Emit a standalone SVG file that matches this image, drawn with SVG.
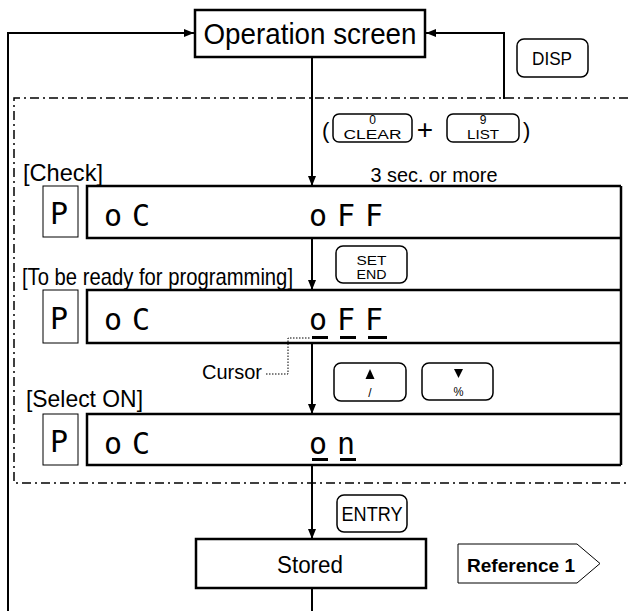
<svg xmlns="http://www.w3.org/2000/svg" width="628" height="611" viewBox="0 0 628 611">
<style>
text{font-family:"Liberation Sans",Arial,sans-serif;fill:#000}
.box{fill:#fff;stroke:#000;stroke-width:2.5}
.key{fill:#fff;stroke:#000;stroke-width:1.5}
.lcd{fill:none;stroke:#000;stroke-width:2.5}
.pbox{fill:none;stroke:#000;stroke-width:1}
.seg{font-family:"DejaVu Sans Mono","Liberation Mono",monospace;font-size:30px;letter-spacing:10px}
.cur{fill:#000}
.lbl{font-size:24px}
.ktxt{font-size:12px;text-anchor:middle}
.conn{fill:none;stroke:#000;stroke-width:2}
</style>
<defs>
<marker id="ah" markerUnits="userSpaceOnUse" markerWidth="10" markerHeight="8" refX="10" refY="4" orient="auto">
<path d="M0,0 L10,4 L0,8 z" fill="#000"/>
</marker>
</defs>

<!-- dash-dot region -->
<path d="M628,98 H14 V483 H628" fill="none" stroke="#000" stroke-width="1.5" stroke-dasharray="9 4 2 4"/>

<g id="connectors">
<path class="conn" d="M8,611 V33 H194" marker-end="url(#ah)"/>
<path class="conn" d="M504,99 V33 H426" marker-end="url(#ah)" stroke-width="1.5"/>
<path class="conn" d="M312,57 V186" marker-end="url(#ah)"/>
<path class="conn" d="M312,238 V290" marker-end="url(#ah)"/>
<path class="conn" d="M312,343 V414" marker-end="url(#ah)"/>
<path class="conn" d="M312,465 V539" marker-end="url(#ah)"/>
<path class="conn" d="M312,588 V611"/>
<path d="M266,374 H288 V338 H311" fill="none" stroke="#000" stroke-width="1" stroke-dasharray="1.5 1.5"/>
</g>

<g id="operation-screen">
<rect class="box" x="195" y="10" width="230" height="47"/>
<text x="310" y="44" font-size="29" text-anchor="middle" textLength="213" lengthAdjust="spacingAndGlyphs">Operation screen</text>
</g>

<g id="key-disp">
<rect class="key" x="517" y="39" width="71" height="38" rx="7"/>
<text x="552" y="65" font-size="18" text-anchor="middle" textLength="40" lengthAdjust="spacingAndGlyphs">DISP</text>
</g>

<g id="key-combo">
<text x="322" y="138" font-size="22">(</text>
<rect class="key" x="333" y="114" width="79" height="28" rx="6"/>
<text class="ktxt" x="372.5" y="124">0</text>
<text class="ktxt" x="372.5" y="139" textLength="58" lengthAdjust="spacingAndGlyphs">CLEAR</text>
<text x="425" y="139" font-size="28" text-anchor="middle">+</text>
<rect class="key" x="447" y="114" width="72" height="28" rx="6"/>
<text class="ktxt" x="483" y="124">9</text>
<text class="ktxt" x="483" y="139" textLength="32" lengthAdjust="spacingAndGlyphs">LIST</text>
<text x="523" y="138" font-size="22">)</text>
<text x="434" y="182" font-size="20" text-anchor="middle" textLength="127" lengthAdjust="spacingAndGlyphs">3 sec. or more</text>
</g>

<g id="row-check">
<text class="lbl" x="23" y="181" textLength="80" lengthAdjust="spacingAndGlyphs">[Check]</text>
<rect class="pbox" x="43" y="186" width="35" height="51"/>
<text class="seg" x="50" y="224">P</text>
<path class="lcd" d="M621,186 H87 V238 H621"/>
<text class="seg" x="104" y="226">oC</text>
<text class="seg" x="309" y="226">oFF</text>
</g>

<g id="key-set-end">
<rect class="key" x="336" y="246" width="71" height="37" rx="7"/>
<text class="ktxt" x="371.5" y="265" font-size="14" textLength="30" lengthAdjust="spacingAndGlyphs">SET</text>
<text class="ktxt" x="371.5" y="279" font-size="14" textLength="30" lengthAdjust="spacingAndGlyphs">END</text>
</g>

<g id="row-ready">
<text class="lbl" x="22" y="285" textLength="271" lengthAdjust="spacingAndGlyphs">[To be ready for programming]</text>
<rect class="pbox" x="43" y="290" width="35" height="53"/>
<text class="seg" x="50" y="329">P</text>
<path class="lcd" d="M621,290 H87 V343 H621"/>
<text class="seg" x="104" y="330">oC</text>
<text class="seg" x="309" y="330">oFF</text>
<rect class="cur" x="312" y="336" width="16" height="3"/>
<rect class="cur" x="340" y="336" width="16" height="3"/>
<rect class="cur" x="368" y="336" width="19" height="3"/>
</g>

<g id="cursor-label">
<text x="202" y="379" font-size="20" textLength="60" lengthAdjust="spacingAndGlyphs">Cursor</text>
</g>

<g id="key-up">
<rect class="key" x="334" y="363" width="72" height="38" rx="7"/>
<path d="M365.5,379 L370,369 L374.5,379 z" fill="#000"/>
<text class="ktxt" x="370" y="397" font-size="14">/</text>
</g>
<g id="key-down">
<rect class="key" x="422" y="363" width="71" height="37" rx="7"/>
<path d="M454,369 L463,369 L458.5,378 z" fill="#000"/>
<text class="ktxt" x="458.5" y="396" font-size="15" textLength="10" lengthAdjust="spacingAndGlyphs" style="fill:#000">%</text>
</g>

<g id="row-select">
<text class="lbl" x="26" y="407" textLength="117" lengthAdjust="spacingAndGlyphs">[Select ON]</text>
<rect class="pbox" x="43" y="414" width="35" height="51"/>
<text class="seg" x="50" y="452">P</text>
<path class="lcd" d="M621,414 H87 V465 H621"/>
<path class="lcd" d="M621,186 V465"/>
<text class="seg" x="104" y="454">oC</text>
<text class="seg" x="309" y="454">on</text>
<rect class="cur" x="312" y="458" width="16" height="3"/>
<rect class="cur" x="340" y="458" width="16" height="3"/>
</g>

<g id="key-entry">
<rect class="key" x="337" y="495" width="70" height="37" rx="7"/>
<text x="372" y="521" font-size="20" text-anchor="middle" textLength="61" lengthAdjust="spacingAndGlyphs">ENTRY</text>
</g>

<g id="stored">
<rect class="box" x="196" y="539" width="230" height="49"/>
<text x="310" y="573" font-size="23" text-anchor="middle" textLength="66" lengthAdjust="spacingAndGlyphs">Stored</text>
</g>

<g id="reference-1">
<path d="M458,544 H577 L600,563.5 L577,583 H458 z" fill="#fff" stroke="#000" stroke-width="1"/>
<text x="467" y="572" font-size="19" font-weight="bold" textLength="108" lengthAdjust="spacingAndGlyphs">Reference 1</text>
</g>
</svg>
